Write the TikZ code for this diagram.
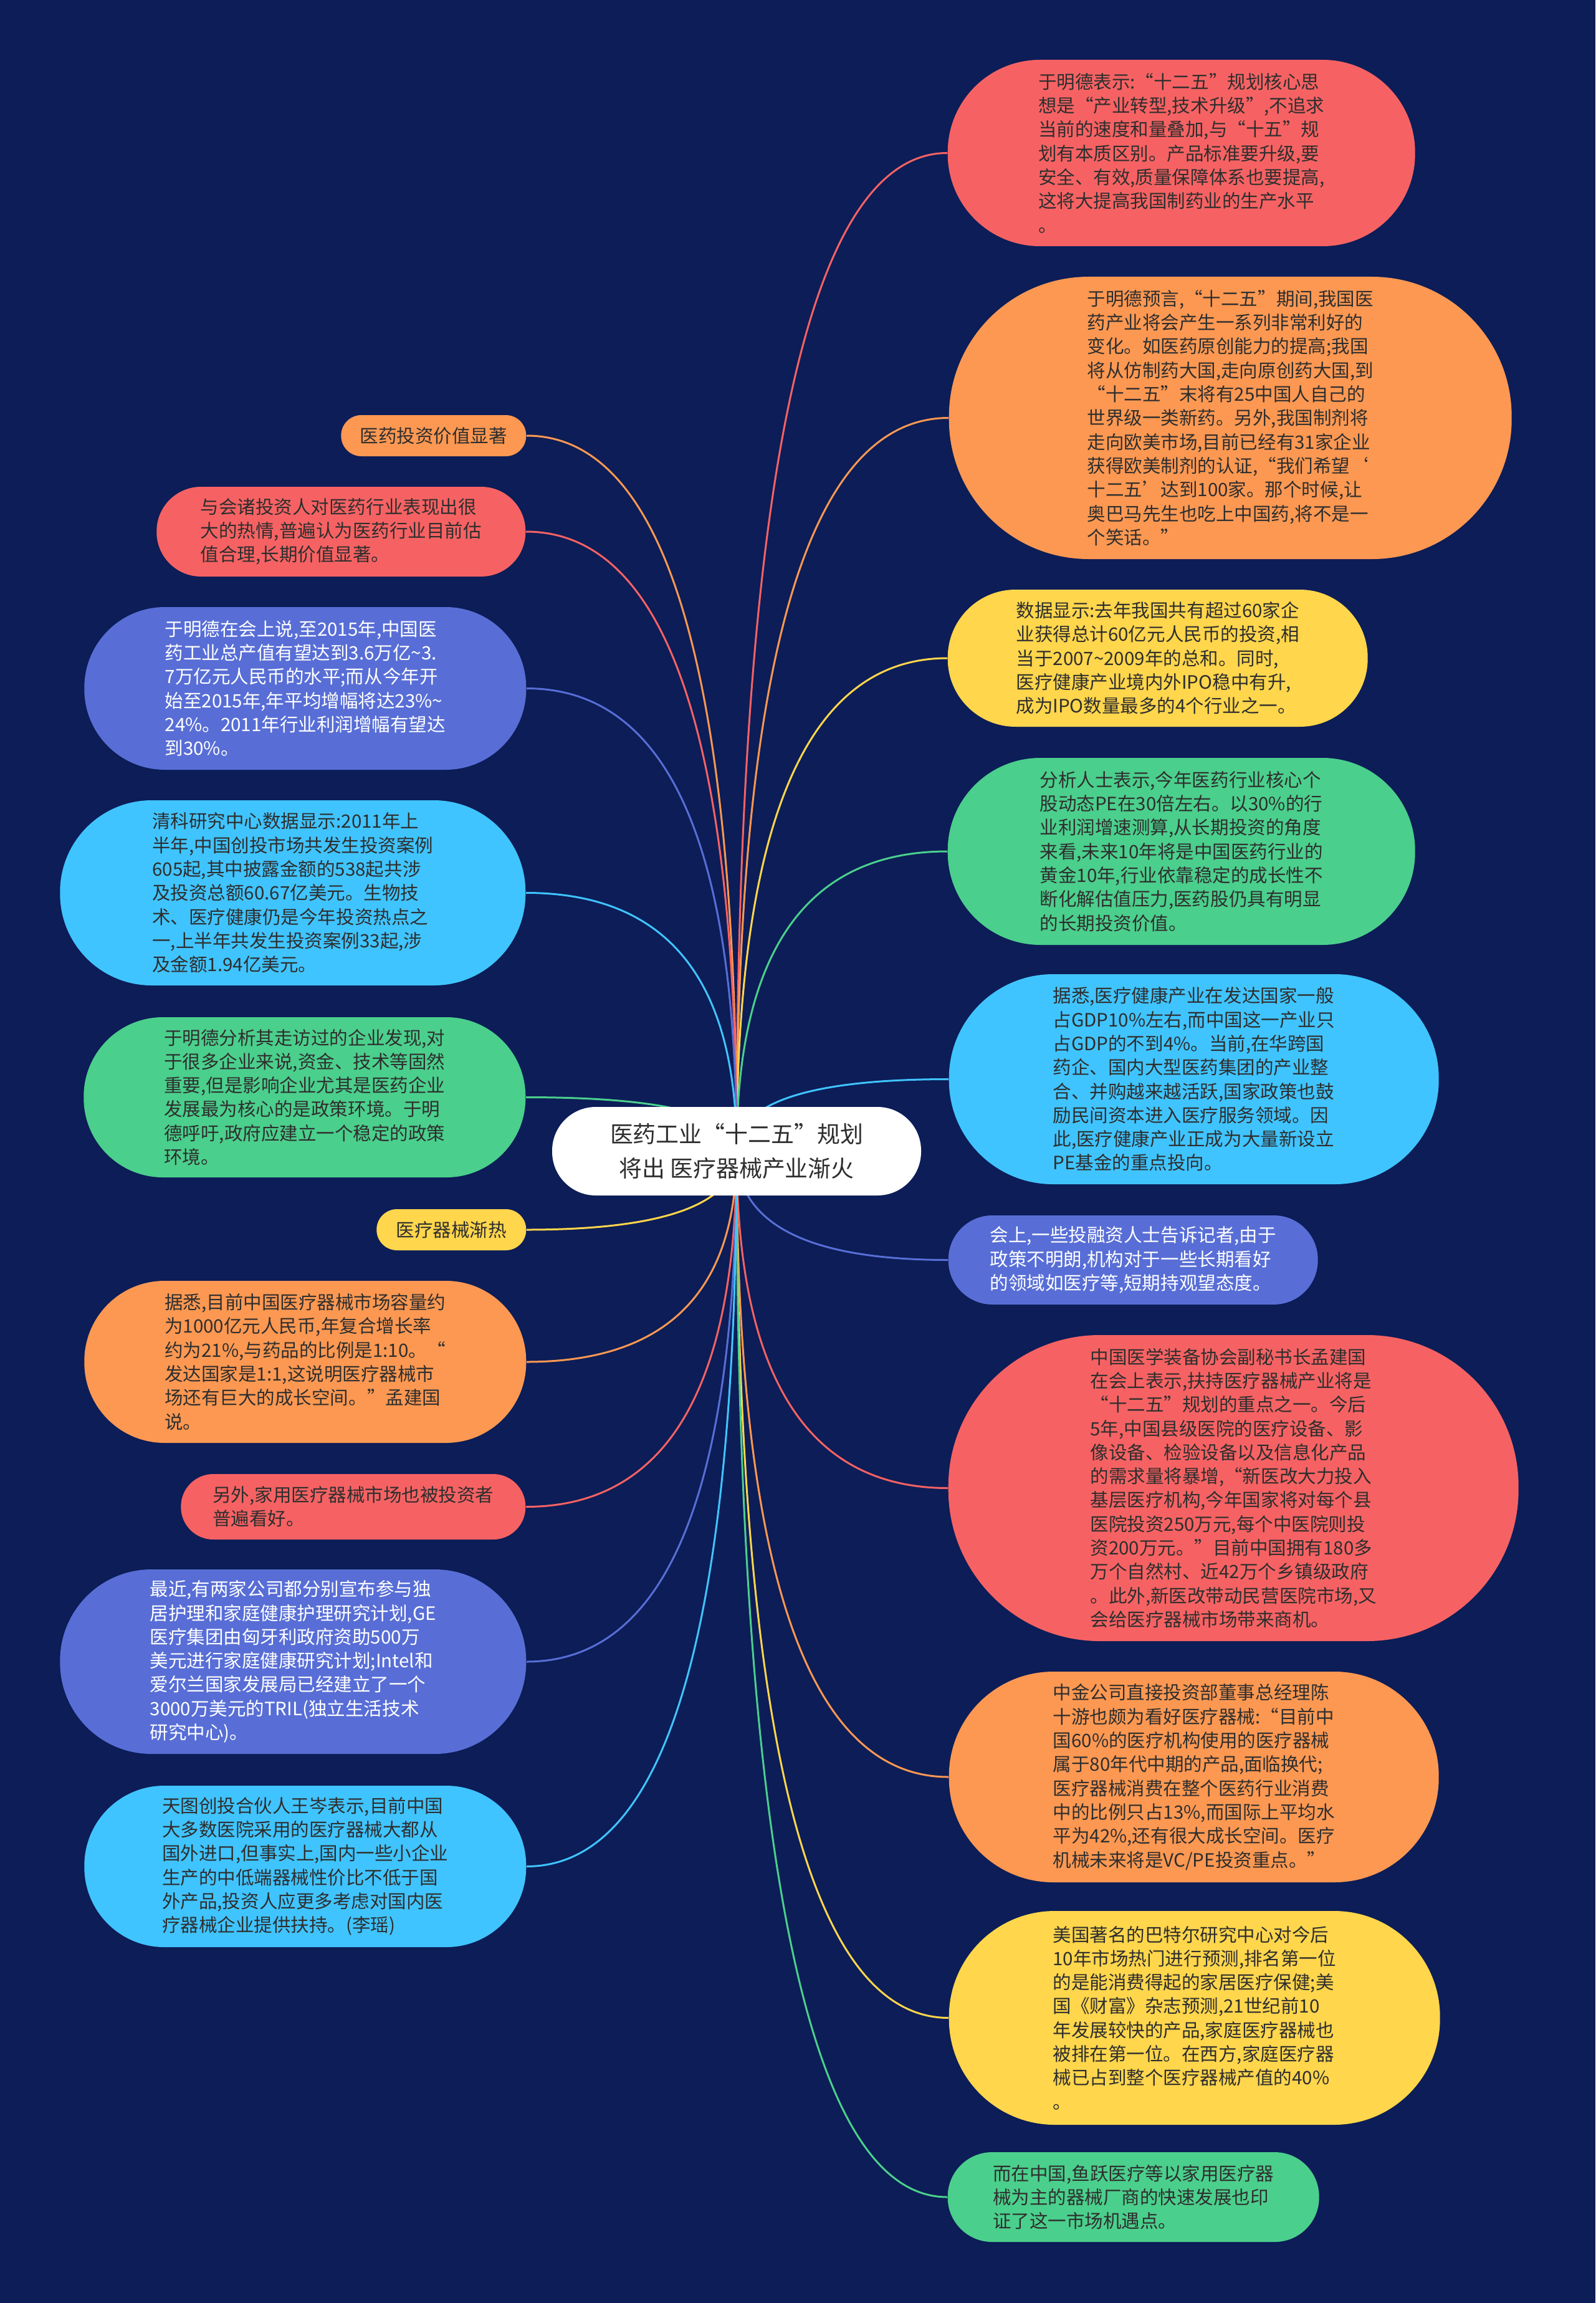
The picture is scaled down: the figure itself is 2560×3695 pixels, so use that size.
\documentclass[tikz,border=0pt]{standalone}
\usepackage{fontspec}
\setmainfont{Noto Sans CJK SC}
\usepackage{tikz}
\usetikzlibrary{calc,backgrounds}
\definecolor{bgnavy}{HTML}{0C1D57}
\definecolor{inkgrey}{HTML}{2E2E2E}
\definecolor{nred}{HTML}{F66263}
\definecolor{norange}{HTML}{FC9852}
\definecolor{nyellow}{HTML}{FFD64C}
\definecolor{ngreen}{HTML}{4BCF8C}
\definecolor{nblue}{HTML}{40C4FF}
\definecolor{npurple}{HTML}{586ED6}
\newcommand\leaffont{\fontsize{8.4pt}{10.9pt}\selectfont}
\newcommand\hubfont{\fontsize{10.5pt}{15.6pt}\selectfont}
\newcommand\tld{\textasciitilde}
\tikzset{
  pill/.style 2 args={minimum width=#1,minimum height=#2,
    rounded corners=#2*0.495,inner sep=0pt,align=left,
    text=inkgrey,font=\leaffont},
  branch/.style={line width=0.3mm,
    to path={.. controls ($(\tikztostart)!0.667!(\tikztostart |- \tikztotarget)$)
      and ($(\tikztotarget)!0.667!(\tikztostart |- \tikztotarget)$) .. (\tikztotarget)}},
}

\begin{document}
\begin{tikzpicture}[x=0.1mm,y=-0.1mm]
  \useasboundingbox (0,0) rectangle (2560,3695);

  \node[fill=white,rounded corners=7mm,minimum width=59.2mm,minimum height=14.2mm,
    align=center,text=inkgrey,font=\hubfont] (c) at (1182,1847)
    {医药工业“十二五”规划\\将出 医疗器械产业渐火};

  \node[pill={75mm}{29.9mm},fill=nred,anchor=west] (r1) at (1520,245.5)
    {于明德表示:“十二五”规划核心思\\想是“产业转型,技术升级”,不追求\\当前的速度和量叠加,与“十五”规\\划有本质区别。产品标准要升级,要\\安全、有效,质量保障体系也要提高,\\这将大提高我国制药业的生产水平\\。};
  \node[pill={90.3mm}{45.3mm},fill=norange,anchor=west] (r2) at (1522,670.5)
    {于明德预言,“十二五”期间,我国医\\药产业将会产生一系列非常利好的\\变化。如医药原创能力的提高;我国\\将从仿制药大国,走向原创药大国,到\\“十二五”末将有25中国人自己的\\世界级一类新药。另外,我国制剂将\\走向欧美市场,目前已经有31家企业\\获得欧美制剂的认证,“我们希望‘\\十二五’达到100家。那个时候,让\\奥巴马先生也吃上中国药,将不是一\\个笑话。”};
  \node[pill={67.4mm}{22mm},fill=nyellow,anchor=west] (r3) at (1520,1056)
    {数据显示:去年我国共有超过60家企\\业获得总计60亿元人民币的投资,相\\当于2007\tld2009年的总和。同时,\\医疗健康产业境内外IPO稳中有升,\\成为IPO数量最多的4个行业之一。};
  \node[pill={75mm}{30mm},fill=ngreen,anchor=west] (r4) at (1520,1366)
    {分析人士表示,今年医药行业核心个\\股动态PE在30倍左右。以30\%的行\\业利润增速测算,从长期投资的角度\\来看,未来10年将是中国医药行业的\\黄金10年,行业依靠稳定的成长性不\\断化解估值压力,医药股仍具有明显\\的长期投资价值。};
  \node[pill={78.6mm}{33.7mm},fill=nblue,anchor=west] (r5) at (1522,1731.5)
    {据悉,医疗健康产业在发达国家一般\\占GDP10\%左右,而中国这一产业只\\占GDP的不到4\%。当前,在华跨国\\药企、国内大型医药集团的产业整\\合、并购越来越活跃,国家政策也鼓\\励民间资本进入医疗服务领域。因\\此,医疗健康产业正成为大量新设立\\PE基金的重点投向。};
  \node[pill={59.3mm}{14.3mm},fill=npurple,text=white,anchor=west] (r6) at (1521,2021.5)
    {会上,一些投融资人士告诉记者,由于\\政策不明朗,机构对于一些长期看好\\的领域如医疗等,短期持观望态度。};
  \node[pill={91.5mm}{49.1mm},fill=nred,anchor=west] (r7) at (1521,2387.5)
    {中国医学装备协会副秘书长孟建国\\在会上表示,扶持医疗器械产业将是\\“十二五”规划的重点之一。今后\\5年,中国县级医院的医疗设备、影\\像设备、检验设备以及信息化产品\\的需求量将暴增,“新医改大力投入\\基层医疗机构,今年国家将对每个县\\医院投资250万元,每个中医院则投\\资200万元。”目前中国拥有180多\\万个自然村、近42万个乡镇级政府\\。此外,新医改带动民营医院市场,又\\会给医疗器械市场带来商机。};
  \node[pill={78.6mm}{33.8mm},fill=norange,anchor=west] (r8) at (1522,2851)
    {中金公司直接投资部董事总经理陈\\十游也颇为看好医疗器械:“目前中\\国60\%的医疗机构使用的医疗器械\\属于80年代中期的产品,面临换代;\\医疗器械消费在整个医药行业消费\\中的比例只占13\%,而国际上平均水\\平为42\%,还有很大成长空间。医疗\\机械未来将是VC/PE投资重点。”};
  \node[pill={78.8mm}{34.3mm},fill=nyellow,anchor=west] (r9) at (1522,3237.5)
    {美国著名的巴特尔研究中心对今后\\10年市场热门进行预测,排名第一位\\的是能消费得起的家居医疗保健;美\\国《财富》杂志预测,21世纪前10\\年发展较快的产品,家庭医疗器械也\\被排在第一位。在西方,家庭医疗器\\械已占到整个医疗器械产值的40\%\\。};
  \node[pill={59.6mm}{14.4mm},fill=ngreen,anchor=west] (r10) at (1520,3525)
    {而在中国,鱼跃医疗等以家用医疗器\\械为主的器械厂商的快速发展也印\\证了这一市场机遇点。};

  \node[pill={29.7mm}{6.6mm},fill=norange,anchor=east] (l1) at (845,699)
    {医药投资价值显著};
  \node[pill={59.2mm}{14.4mm},fill=nred,anchor=east] (l2) at (844,853)
    {与会诸投资人对医药行业表现出很\\大的热情,普遍认为医药行业目前估\\值合理,长期价值显著。};
  \node[pill={70.9mm}{26.1mm},fill=npurple,text=white,anchor=east] (l3) at (845,1104.5)
    {于明德在会上说,至2015年,中国医\\药工业总产值有望达到3.6万亿\tld3.\\7万亿元人民币的水平;而从今年开\\始至2015年,年平均增幅将达23\%\tld\\24\%。2011年行业利润增幅有望达\\到30\%。};
  \node[pill={74.7mm}{29.7mm},fill=nblue,anchor=east] (l4) at (844,1432.5)
    {清科研究中心数据显示:2011年上\\半年,中国创投市场共发生投资案例\\605起,其中披露金额的538起共涉\\及投资总额60.67亿美元。生物技\\术、医疗健康仍是今年投资热点之\\一,上半年共发生投资案例33起,涉\\及金额1.94亿美元。};
  \node[pill={70.9mm}{25.7mm},fill=ngreen,anchor=east] (l5) at (844,1760.5)
    {于明德分析其走访过的企业发现,对\\于很多企业来说,资金、技术等固然\\重要,但是影响企业尤其是医药企业\\发展最为核心的是政策环境。于明\\德呼吁,政府应建立一个稳定的政策\\环境。};
  \node[pill={24mm}{6.6mm},fill=nyellow,anchor=east] (l6) at (845,1973)
    {医疗器械渐热};
  \node[pill={70.9mm}{26mm},fill=norange,anchor=east] (l7) at (845,2185)
    {据悉,目前中国医疗器械市场容量约\\为1000亿元人民币,年复合增长率\\约为21\%,与药品的比例是1:10。“\\发达国家是1:1,这说明医疗器械市\\场还有巨大的成长空间。”孟建国\\说。};
  \node[pill={55.3mm}{10.5mm},fill=nred,anchor=east] (l8) at (844,2417.5)
    {另外,家用医疗器械市场也被投资者\\普遍看好。};
  \node[pill={74.8mm}{29.6mm},fill=npurple,text=white,anchor=east] (l9) at (845,2666)
    {最近,有两家公司都分别宣布参与独\\居护理和家庭健康护理研究计划,GE\\医疗集团由匈牙利政府资助500万\\美元进行家庭健康研究计划;Intel和\\爱尔兰国家发展局已经建立了一个\\3000万美元的TRIL(独立生活技术\\研究中心)。};
  \node[pill={70.9mm}{25.9mm},fill=nblue,anchor=east] (l10) at (845,2994.5)
    {天图创投合伙人王岑表示,目前中国\\大多数医院采用的医疗器械大都从\\国外进口,但事实上,国内一些小企业\\生产的中低端器械性价比不低于国\\外产品,投资人应更多考虑对国内医\\疗器械企业提供扶持。(李瑶)};

  \begin{scope}[on background layer]
    \fill[bgnavy] (0,0) rectangle (2560,3695);
    \foreach \n/\col in {r1/nred,r2/norange,r3/nyellow,r4/ngreen,r5/nblue,
        r6/npurple,r7/nred,r8/norange,r9/nyellow,r10/ngreen}
      \draw[branch,\col] (c.center) to (\n.west);
    \foreach \n/\col in {l1/norange,l2/nred,l3/npurple,l4/nblue,l5/ngreen,
        l6/nyellow,l7/norange,l8/nred,l9/npurple,l10/nblue}
      \draw[branch,\col] (c.center) to (\n.east);
  \end{scope}
\end{tikzpicture}
\end{document}
